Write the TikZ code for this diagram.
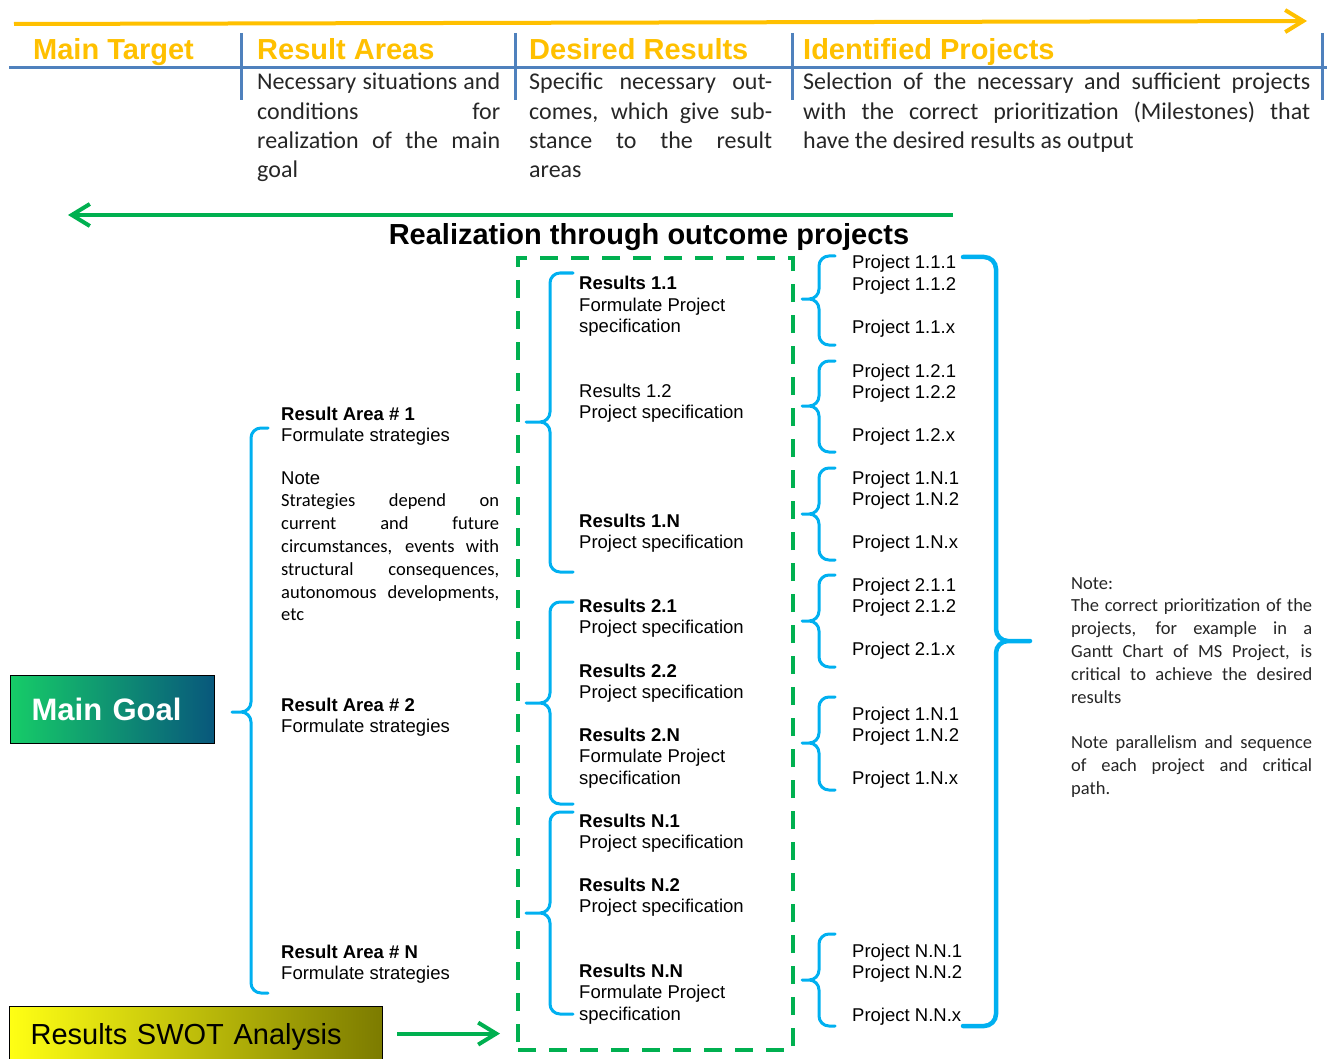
\documentclass[tikz,border=0pt]{standalone}
\usepackage{fontspec}
\setmainfont{Liberation Sans}
\newfontfamily\calibri{Carlito}
\usetikzlibrary{arrows.meta}
\usetikzlibrary{positioning}
\definecolor{HeadOrange}{HTML}{FFC000}
\definecolor{TableBlue}{HTML}{4F81BD}
\definecolor{BraceBlue}{HTML}{00B0F0}
\definecolor{DashGreen}{HTML}{00B050}
\definecolor{GoalGreen}{HTML}{16CC68}
\definecolor{GoalTeal}{HTML}{08577C}
\definecolor{SwotYellow}{HTML}{FFFF14}
\definecolor{SwotOlive}{HTML}{7C7B00}
\newcommand{\diagfont}{\fontsize{18.5}{21.5}\selectfont}
\newcommand{\notefont}{\calibri\fontsize{18.5}{22.8}\selectfont}
\newcommand{\colfont}{\calibri\fontsize{24}{29.3}\selectfont}
\newcommand{\headfont}{\bfseries\fontsize{29}{34}\selectfont}
\newcommand{\tblock}[2]{\parbox[t]{#1}{#2}}
% brace: end x, bar x, tip x, top y, tip y, bottom y
\newcommand{\drawbrace}[7][]{%
  \draw[bracepath,#1] (#2,#5) -- (#3,#5) -- (#3,#6) -- (#4,#6)
                      (#4,#6) -- (#3,#6) -- (#3,#7) -- (#2,#7);}

\begin{document}
\begin{tikzpicture}[x=1pt, y=-1pt,
  bracepath/.style={BraceBlue, line width=3pt, rounded corners=10pt, line cap=round},
  tableline/.style={TableBlue, line width=3pt},
  headtext/.style={anchor=base west, inner sep=0pt, font=\headfont, text=HeadOrange},
  coltext/.style={anchor=base west, inner sep=0pt, font=\colfont, text=black!85},
  diagtext/.style={anchor=base west, inner sep=0pt, font=\diagfont},
  notetext/.style={anchor=base west, inner sep=0pt, font=\notefont, text=black!85},
  flowarrow/.style={line width=4pt, -{Straight Barb[length=18pt, width=22pt]}},
  dashbox/.style={draw=DashGreen, line width=4pt, dash pattern=on 18pt off 13pt,
    inner sep=0pt, minimum width=275pt, minimum height=792pt, anchor=north west},
  goalbox/.style={draw=black, line width=1.2pt, anchor=north west, align=left,
    left color=GoalGreen, right color=GoalTeal, text=white,
    minimum width=204pt, minimum height=68pt, inner xsep=21pt, text width=162pt,
    font=\bfseries\fontsize{31}{36}\selectfont},
  swotbox/.style={draw=black, line width=1.2pt, anchor=north west, align=left,
    left color=SwotYellow, right color=SwotOlive, text depth=0pt,
    minimum width=373pt, minimum height=54pt, inner xsep=21pt, text width=331pt,
    font=\fontsize{29}{34}\selectfont}]

  \clip (0,0) rectangle (1327,1059);

  % time line and header table
  \coordinate (timestart) at (14,24);
  \coordinate (timeend)   at (1307,21);
  \draw[flowarrow, HeadOrange] (timestart) -- (timeend);

  \draw[tableline] (9,68) -- (1327,68);
  \foreach \x in {241,515,792,1322}
    \draw[tableline] (\x,33) -- (\x,100);

  \node[headtext] (hdtarget)   at (33,60)  {Main Target};
  \node[headtext] (hdareas)    at (257,60) {Result Areas};
  \node[headtext] (hddesired)  at (529,60) {Desired Results};
  \node[headtext] (hdprojects) at (803,60) {Identified Projects};

  \node[coltext] (areadesc) at (257,90) {\tblock{243pt}{Necessary situations and\linebreak
    conditions for\linebreak realization of the main\linebreak goal}};
  \node[coltext] (desireddesc) at (529,90) {\tblock{243pt}{Specific necessary out-\linebreak
    comes, which give sub-\linebreak stance to the result\linebreak areas}};
  \node[coltext] (projectdesc) at (803,90) {\tblock{507pt}{Selection of the necessary and
    sufficient projects\linebreak with the correct prioritization (Milestones) that\linebreak
    have the desired results as output}};

  % realization arrow
  \coordinate (realstart) at (953,215);
  \coordinate (realend)   at (68,215);
  \draw[flowarrow, DashGreen] (realstart) -- (realend);
  \node[anchor=base, inner sep=0pt, font=\bfseries\fontsize{29}{34}\selectfont]
    (realtitle) at (649,245) {Realization through outcome projects};

  % goal and analysis boxes
  \node[goalbox] (maingoal) at (10,675) {Main Goal};
  \node[swotbox] (swot) at (9,1006) {Results SWOT Analysis};

  \node[dashbox] (resbox) at (516,256) {};
  \draw[flowarrow, DashGreen, shorten <=14pt, shorten >=16pt]
    (swot.east) -- (swot.east -| resbox.west);

  % result areas
  \drawbrace{268}{251}{232}{428}{712}{993}
  \node[diagtext] (area1) at (281,420) {\tblock{218pt}{\textbf{Result Area \# 1}\\Formulate strategies}};
  \node[diagtext] (area1note) at (281,484) {\tblock{218pt}{Note\par\notefont
    Strategies depend on\linebreak current and future\linebreak circumstances, events with\linebreak
    structural consequences,\linebreak autonomous developments,\linebreak etc}};
  \node[diagtext] (area2) at (281,711) {\tblock{218pt}{\textbf{Result Area \# 2}\\Formulate strategies}};
  \node[diagtext] (arean) at (281,958) {\tblock{218pt}{\textbf{Result Area \# N}\\Formulate strategies}};

  % desired results
  \foreach \ytop/\ymid/\ybot in {273/422/572, 602/703/804, 812/913/1014}{
    \drawbrace{573}{550}{526}{\ytop}{\ymid}{\ybot}
  }
  \node[diagtext] (res11) at (579,290) {\tblock{200pt}{\textbf{Results 1.1}\\Formulate Project\\specification}};
  \node[diagtext] (res12) at (579,397) {\tblock{200pt}{Results 1.2\\Project specification}};
  \node[diagtext] (res1n) at (579,527) {\tblock{200pt}{\textbf{Results 1.N}\\Project specification}};
  \node[diagtext] (res21) at (579,612) {\tblock{200pt}{\textbf{Results 2.1}\\Project specification}};
  \node[diagtext] (res22) at (579,677) {\tblock{200pt}{\textbf{Results 2.2}\\Project specification}};
  \node[diagtext] (res2n) at (579,741) {\tblock{200pt}{\textbf{Results 2.N}\\Formulate Project\\specification}};
  \node[diagtext] (resn1) at (579,827) {\tblock{200pt}{\textbf{Results N.1}\\Project specification}};
  \node[diagtext] (resn2) at (579,891) {\tblock{200pt}{\textbf{Results N.2}\\Project specification}};
  \node[diagtext] (resnn) at (579,977) {\tblock{200pt}{\textbf{Results N.N}\\Formulate Project\\specification}};

  % identified projects
  \foreach \ytop/\ymid/\ybot in {256/299/345, 361/406/452, 468/514/560, 575/621/667, 697/743/790, 934/980/1026}{
    \drawbrace{835}{819}{802}{\ytop}{\ymid}{\ybot}
  }
  \foreach \name/\y/\grp in {proj11/269/1.1, proj12/377/1.2, proj1n/484/1.N,
                             proj21/591/2.1, proj1nb/720/1.N, projnn/957/N.N}{
    \node[diagtext] (\name) at (852,\y) {\tblock{140pt}{Project \grp.1\\Project \grp.2\\[21.5pt]Project \grp.x}};
  }

  \drawbrace[line width=4.5pt, rounded corners=12pt]{963}{996}{1030}{257}{641}{1026}

  \node[notetext] (prionote) at (1071,589) {\tblock{241pt}{Note:\par
    The correct prioritization of the\linebreak projects, for example in a\linebreak
    Gantt Chart of MS Project, is\linebreak critical to achieve the desired\linebreak results\par
    \vspace{22.8pt}Note parallelism and sequence\linebreak of each project and critical\linebreak path.}};
\end{tikzpicture}
\end{document}
